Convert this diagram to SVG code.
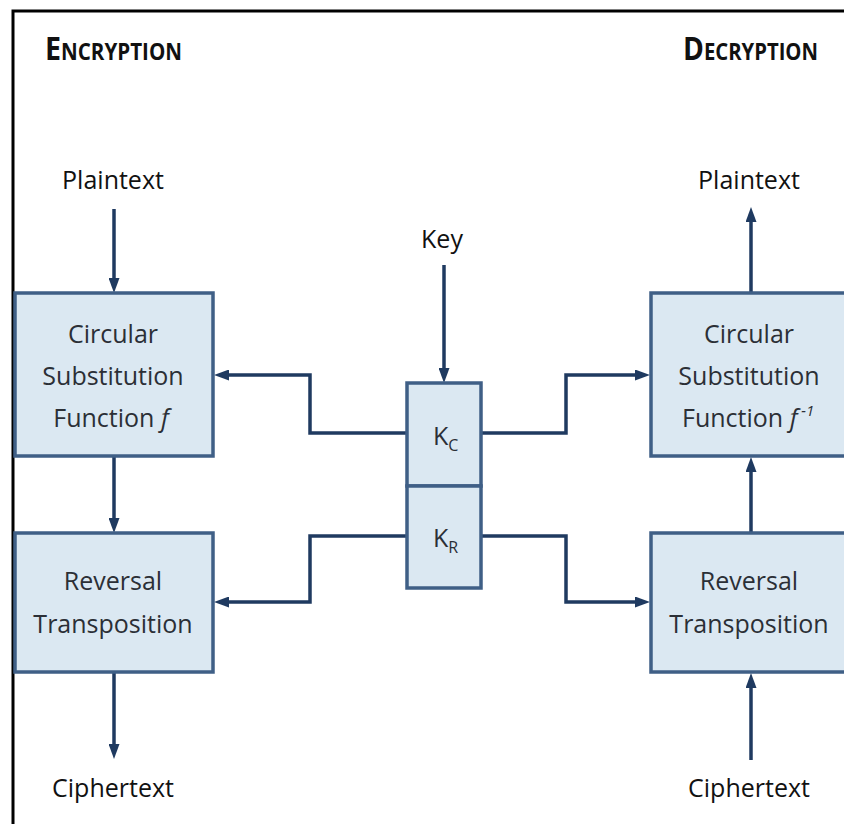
<svg xmlns="http://www.w3.org/2000/svg" width="844" height="824" viewBox="0 0 844 824">
  <style>
    .frame { stroke: #000; stroke-width: 3; fill: none; }
    .box { fill: #dbe8f2; stroke: #3f5f86; stroke-width: 3.5; }
    .wire { fill: none; stroke: #1f3a60; stroke-width: 3.5; stroke-linejoin: miter; }
    .lbl { font-family: "Open Sans", "Noto Sans", sans-serif; font-size: 25px; fill: #111; }
    .in { font-family: "Open Sans", "Noto Sans", sans-serif; font-size: 25px; fill: #2b2f36; }
    .title { font-family: "Open Sans", "Noto Sans", sans-serif; font-weight: bold; fill: #111; }
  </style>
  <defs>
    <marker id="arrow" markerUnits="userSpaceOnUse" markerWidth="15" markerHeight="11" refX="6" refY="5.5" orient="auto">
      <path d="M0,0 L15,5.5 L0,11 z" fill="#1f3a60"/>
    </marker>
  </defs>

  <rect width="844" height="824" fill="#fff"/>
  <!-- page frame (top and left edges) -->
  <path class="frame" d="M13,824 L13,11 L844,11"/>

  <!-- section titles -->
  <text class="title" x="45" y="60" textLength="137" lengthAdjust="spacingAndGlyphs"><tspan font-size="32">E</tspan><tspan font-size="23">NCRYPTION</tspan></text>
  <text class="title" x="683" y="60" textLength="135" lengthAdjust="spacingAndGlyphs"><tspan font-size="32">D</tspan><tspan font-size="23">ECRYPTION</tspan></text>

  <!-- connectors -->
  <g id="connectors">
    <!-- encryption side -->
    <line class="wire" x1="114" y1="209" x2="114" y2="284" marker-end="url(#arrow)"/>
    <line class="wire" x1="114" y1="456" x2="114" y2="524" marker-end="url(#arrow)"/>
    <line class="wire" x1="114" y1="672" x2="114" y2="750" marker-end="url(#arrow)"/>
    <!-- key input -->
    <line class="wire" x1="444" y1="265" x2="444" y2="374" marker-end="url(#arrow)"/>
    <!-- key parts to encryption -->
    <polyline class="wire" points="407,433 310,433 310,375 223,375" marker-end="url(#arrow)"/>
    <polyline class="wire" points="407,536 310,536 310,602 223,602" marker-end="url(#arrow)"/>
    <!-- key parts to decryption -->
    <polyline class="wire" points="481,433 566,433 566,375 641,375" marker-end="url(#arrow)"/>
    <polyline class="wire" points="481,536 566,536 566,602 641,602" marker-end="url(#arrow)"/>
    <!-- decryption side -->
    <line class="wire" x1="751" y1="760" x2="751" y2="682" marker-end="url(#arrow)"/>
    <line class="wire" x1="751" y1="533" x2="751" y2="466" marker-end="url(#arrow)"/>
    <line class="wire" x1="751" y1="293" x2="751" y2="216" marker-end="url(#arrow)"/>
  </g>

  <!-- terminal labels -->
  <g id="enc-plaintext"><text class="lbl" x="113" y="189" text-anchor="middle">Plaintext</text></g>
  <g id="enc-ciphertext"><text class="lbl" x="113" y="797" text-anchor="middle">Ciphertext</text></g>
  <g id="dec-plaintext"><text class="lbl" x="749" y="189" text-anchor="middle">Plaintext</text></g>
  <g id="dec-ciphertext"><text class="lbl" x="749" y="797" text-anchor="middle">Ciphertext</text></g>
  <g id="key-label"><text class="lbl" x="442" y="248" text-anchor="middle">Key</text></g>

  <!-- encryption blocks -->
  <g id="enc-substitution">
    <rect class="box" x="15" y="293" width="198" height="163"/>
    <text class="in" x="113" y="343" text-anchor="middle">Circular</text>
    <text class="in" x="113" y="385" text-anchor="middle">Substitution</text>
    <text class="in" x="111" y="427" text-anchor="middle">Function <tspan font-style="italic">f</tspan></text>
  </g>
  <g id="enc-transposition">
    <rect class="box" x="15" y="533" width="198" height="139"/>
    <text class="in" x="113" y="590" text-anchor="middle">Reversal</text>
    <text class="in" x="113" y="633" text-anchor="middle">Transposition</text>
  </g>

  <!-- key block -->
  <g id="key-kc">
    <rect class="box" x="407" y="383" width="74" height="103"/>
    <text class="in" x="433" y="445" font-size="26">K<tspan font-size="16" dy="6">C</tspan></text>
  </g>
  <g id="key-kr">
    <rect class="box" x="407" y="486" width="74" height="102"/>
    <text class="in" x="433" y="547" font-size="26">K<tspan font-size="16" dy="6">R</tspan></text>
  </g>

  <!-- decryption blocks -->
  <g id="dec-substitution">
    <rect class="box" x="651" y="293" width="200" height="163"/>
    <text class="in" x="749" y="343" text-anchor="middle">Circular</text>
    <text class="in" x="749" y="385" text-anchor="middle">Substitution</text>
    <text class="in" x="682" y="427">Function <tspan font-style="italic">f</tspan><tspan font-size="15" font-style="italic" dy="-11"> -1</tspan></text>
  </g>
  <g id="dec-transposition">
    <rect class="box" x="651" y="533" width="200" height="139"/>
    <text class="in" x="749" y="590" text-anchor="middle">Reversal</text>
    <text class="in" x="749" y="633" text-anchor="middle">Transposition</text>
  </g>
</svg>
